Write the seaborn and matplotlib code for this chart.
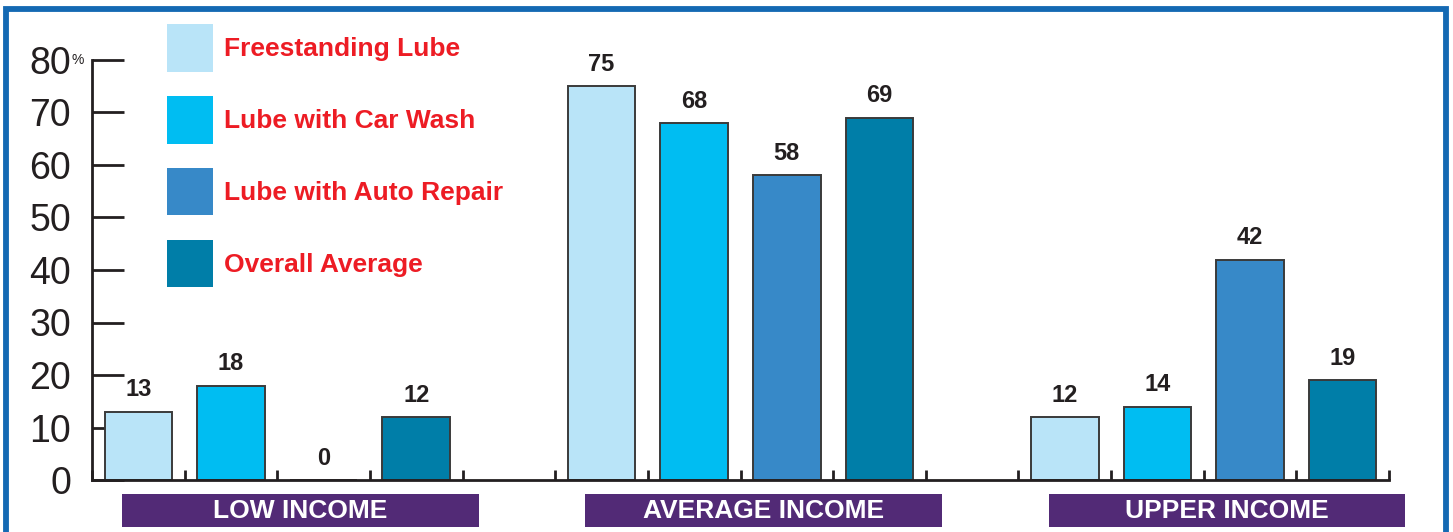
import matplotlib
matplotlib.use("Agg")
import matplotlib.pyplot as plt
import matplotlib.font_manager as fm
from matplotlib.patches import Rectangle
from matplotlib.transforms import blended_transform_factory
import pandas as pd
import seaborn as sns

# ---- data -------------------------------------------------------------
incomes = ["LOW INCOME", "AVERAGE INCOME", "UPPER INCOME"]
store_types = ["Freestanding Lube", "Lube with Car Wash",
               "Lube with Auto Repair", "Overall Average"]
freestanding = [13, 75, 12]
car_wash = [18, 68, 14]
auto_repair = [0, 58, 42]
overall = [12, 69, 19]
y_ticks = [0, 10, 20, 30, 40, 50, 60, 70, 80]

palette = ["#b9e4f8", "#00bdf2", "#3789c8", "#007ea8"]
ink = "#231f20"
purple = "#522a76"
legend_red = "#ed1c24"
frame_blue = "#1469b3"

df = pd.DataFrame({
    "income": incomes * len(store_types),
    "type": [t for t in store_types for _ in incomes],
    "share": freestanding + car_wash + auto_repair + overall,
})


def pick_font(*names):
    for n in names:
        try:
            fm.findfont(fm.FontProperties(family=n), fallback_to_default=False)
            return n
        except Exception:
            continue
    return "DejaVu Sans"


sans = pick_font("Liberation Sans", "Arial", "DejaVu Sans")
narrow = pick_font("Liberation Sans Narrow", "Liberation Sans", "DejaVu Sans")

sns.set_style("white")
plt.rcParams["font.family"] = [sans, "DejaVu Sans"]

W, H = 1453, 532
fig = plt.figure(figsize=(W / 100, H / 100), dpi=100)
ax = fig.add_axes([92 / W, 52 / H, 1297 / W, 420 / H])

sns.barplot(data=df, x="income", y="share", hue="type",
            order=incomes, hue_order=store_types, palette=palette,
            saturation=1, width=0.8, gap=0.27, errorbar=None,
            edgecolor="#3a3a3a", linewidth=1.4, ax=ax)

# axis geometry: 14 equal slots, four bars per income group plus a gap slot
ax.set_xlim(-0.4, 2.4)
ax.set_ylim(0, 80)
ax.set_xticks([-0.4 + 0.2 * k for k in range(15)])
ax.set_xticklabels([])
ax.set_yticks(y_ticks)
ax.set_yticklabels([str(v) for v in y_ticks])
ax.set_xlabel("")
ax.set_ylabel("")
ax.tick_params(axis="x", which="major", bottom=True, direction="in",
               length=7, width=2, color=ink, labelbottom=False)
ax.tick_params(axis="y", which="major", left=True, direction="in",
               length=23, width=2, color=ink, pad=15, labelsize=27,
               labelcolor=ink)
for side in ("top", "right"):
    ax.spines[side].set_visible(False)
for side in ("left", "bottom"):
    ax.spines[side].set_linewidth(2)
    ax.spines[side].set_color(ink)

fig.text(71 / W, 1 - 60 / H, "%", fontsize=10, color=ink,
         ha="left", va="center")

# value labels above each bar
for container, values in zip(ax.containers,
                             [freestanding, car_wash, auto_repair, overall]):
    for bar, v in zip(container.patches, values):
        ax.annotate(f"{v}", xy=(bar.get_x() + bar.get_width() / 2, v),
                    xytext=(0, 11), textcoords="offset points",
                    ha="center", va="baseline", fontsize=17,
                    fontweight="bold", family=narrow, color=ink)

# legend
handles, labels = ax.get_legend_handles_labels()
leg = ax.legend(handles, labels, loc="upper left",
                bbox_to_anchor=(167 / W, 1 - 24 / H),
                bbox_transform=fig.transFigure, frameon=False,
                prop=fm.FontProperties(family=sans, weight="bold", size=19),
                labelcolor=legend_red, handlelength=1.74, handleheight=2.4,
                labelspacing=0.92, handletextpad=0.42,
                borderpad=0, borderaxespad=0)
for h in leg.legend_handles:
    h.set_edgecolor("none")

# income group banners under the axis
trans = blended_transform_factory(ax.transData, fig.transFigure)
for i, name in enumerate(incomes):
    cx = i + 0.05
    fig.add_artist(Rectangle((cx - 0.385, 5 / H), 0.77, 33 / H,
                             transform=trans, facecolor=purple,
                             edgecolor="none"))
    fig.text(cx, 21.5 / H, name, transform=trans, ha="center", va="center",
             color="white", fontsize=19, fontweight="bold")

# blue frame around the whole graphic
fig.add_artist(Rectangle((6 / W, -20 / H), 1440 / W, (H - 8.5 + 20) / H,
                         transform=fig.transFigure, fill=False,
                         edgecolor=frame_blue, linewidth=4.2))

fig.savefig("out.png", dpi=100, facecolor="white")
